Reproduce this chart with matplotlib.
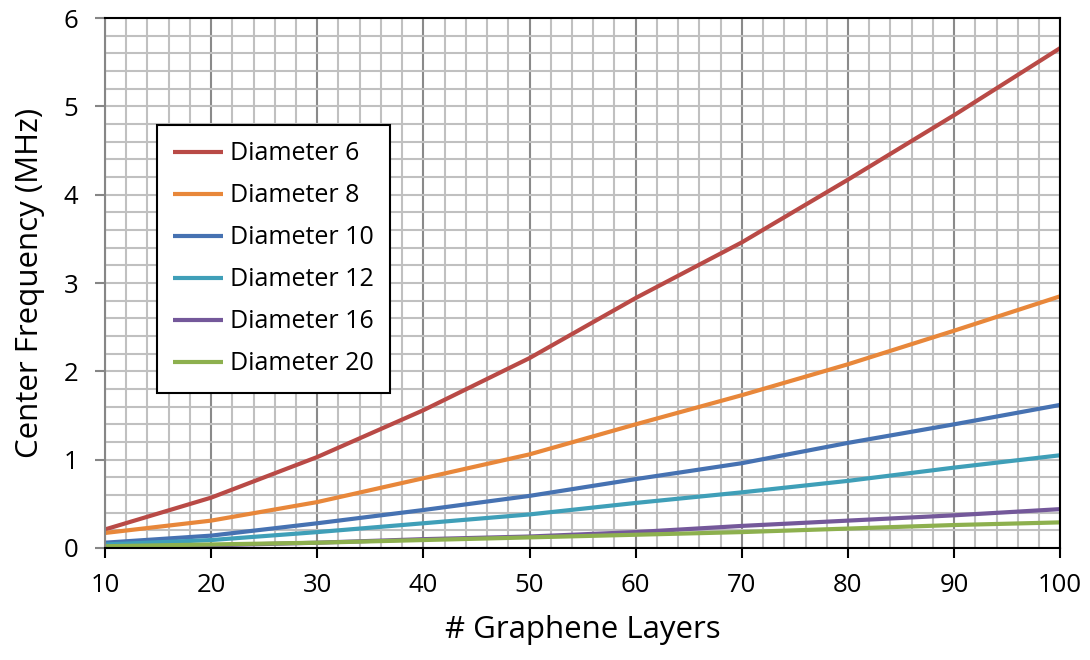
import numpy as np
import matplotlib
matplotlib.use("Agg")
import matplotlib.pyplot as plt
from matplotlib.ticker import MultipleLocator

plt.rcParams['font.family'] = ['Open Sans', 'DejaVu Sans']

# data
layers = [10, 20, 30, 40, 50, 60, 70, 80, 90, 100]
d6 = [0.21, 0.57, 1.03, 1.56, 2.15, 2.83, 3.46, 4.17, 4.90, 5.66]
d8 = [0.17, 0.31, 0.52, 0.79, 1.06, 1.40, 1.73, 2.08, 2.46, 2.85]
d10 = [0.06, 0.14, 0.28, 0.43, 0.59, 0.78, 0.96, 1.19, 1.40, 1.62]
d12 = [0.04, 0.09, 0.18, 0.28, 0.38, 0.51, 0.63, 0.76, 0.91, 1.05]
d16 = [0.01, 0.03, 0.06, 0.10, 0.13, 0.18, 0.25, 0.31, 0.37, 0.44]
d20 = [0.02, 0.04, 0.06, 0.09, 0.12, 0.15, 0.18, 0.22, 0.26, 0.29]

series = [d6, d8, d10, d12, d16, d20]
labels = ['Diameter 6', 'Diameter 8', 'Diameter 10', 'Diameter 12', 'Diameter 16', 'Diameter 20']
colors = ['#B94A46', '#E8873A', '#4672B2', '#3F9FB8', '#74589A', '#8DB04E']

fig = plt.figure(figsize=(10.9, 6.6), dpi=100)
ax = fig.add_axes([0.0963, 0.1697, 0.8764, 0.803])

for vals, lab, col in zip(series, labels, colors):
    ax.plot(layers, vals, color=col, lw=3, label=lab, solid_capstyle='butt')

ax.set_xlim(10, 100)
ax.set_ylim(0, 6)
ax.xaxis.set_major_locator(MultipleLocator(10))
ax.xaxis.set_minor_locator(MultipleLocator(2))
ax.yaxis.set_major_locator(MultipleLocator(1))
ax.yaxis.set_minor_locator(MultipleLocator(0.2))

ax.grid(which='minor', axis='both', color='#C0C0C0', lw=1.5)
ax.grid(which='major', axis='y', color='#C0C0C0', lw=1.5)
ax.grid(which='major', axis='x', color='#8A8A8A', lw=1.5)
ax.set_axisbelow(True)

for s in ['top', 'right', 'bottom']:
    ax.spines[s].set_color('black')
    ax.spines[s].set_linewidth(1.5)
ax.spines['left'].set_color('#868686')
ax.spines['left'].set_linewidth(1.5)

ax.tick_params(axis='x', which='major', direction='out', length=7.2, width=1.5, color='black', labelsize=18.5, pad=11)
ax.tick_params(axis='y', which='major', direction='out', length=7.2, width=1.5, color='#868686', labelsize=18.5, pad=12)
ax.tick_params(which='minor', length=0)

ax.set_xlabel('# Graphene Layers', fontsize=22.5, labelpad=12)
ax.set_ylabel('Center Frequency (MHz)', fontsize=22.5, labelpad=13)

leg = ax.legend(loc='upper left', bbox_to_anchor=(0.054, 0.798), borderaxespad=0,
                fontsize=18, frameon=True, fancybox=False, framealpha=1,
                edgecolor='black', handlelength=2.0, labelspacing=0.68,
                handletextpad=0.3, borderpad=0.65)
leg.get_frame().set_linewidth(1.5)

fig.savefig('out.png', dpi=100)
